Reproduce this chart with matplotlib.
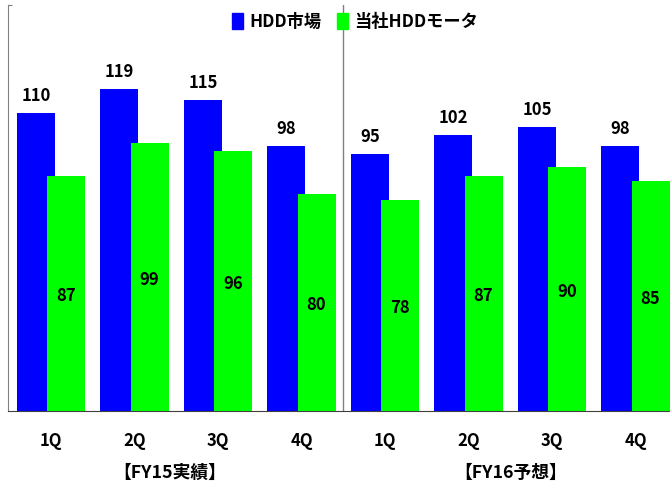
import matplotlib
matplotlib.use('Agg')
import numpy as np
from matplotlib import pyplot as plt
from matplotlib.patches import Patch

plt.rcParams['font.family'] = ['Noto Sans CJK JP', 'DejaVu Sans']
plt.rcParams['font.weight'] = 'bold'

quarters = ['1Q', '2Q', '3Q', '4Q', '1Q', '2Q', '3Q', '4Q']
periods = ['【FY15実績】', '【FY16予想】']
hdd_market = [110, 119, 115, 98, 95, 102, 105, 98]
hdd_motor = [87, 99, 96, 80, 78, 87, 90, 85]

fs = 12

fig = plt.figure(figsize=(6.7, 4.84), dpi=100)
ax = fig.add_axes([8 / 670, 1 - 411 / 484, 1 - 8 / 670, (411 - 5) / 484])

x = np.arange(len(quarters))
w = 0.455
off = 0.18
ax.bar(x - off, hdd_market, w, color='#0000FF', zorder=2)
ax.bar(x + off, hdd_motor, w, color='#00FF00', zorder=3)

for xi, v in zip(x, hdd_market):
    ax.text(xi - off, v + 3, str(v), ha='center', va='bottom', fontsize=fs, fontweight='bold')
for xi, v in zip(x, hdd_motor):
    ax.text(xi + off, v / 2 - 1, str(v), ha='center', va='center', fontsize=fs, fontweight='bold')

ax.set_xlim(-0.515, 7.413)
ax.set_ylim(0, 150)
ax.axvline(3.5, color='#808080', lw=1, zorder=1)

for s in ['top', 'right']:
    ax.spines[s].set_visible(False)
ax.spines['left'].set_color('#808080')
ax.spines['bottom'].set_color('#404040')
ax.set_yticks([150])
ax.set_yticklabels([])
ax.tick_params(axis='y', direction='in', length=3, color='#808080')
ax.set_xticks([])

for xi, q in zip(x, quarters):
    ax.text(xi, -11, q, ha='center', va='center', fontsize=fs, fontweight='bold')
ax.text(1.42, -23, periods[0], ha='center', va='center', fontsize=12.8, fontweight='bold')
ax.text(5.51, -23, periods[1], ha='center', va='center', fontsize=12.8, fontweight='bold')

ax.legend(handles=[Patch(color='#0000FF', label='HDD市場'), Patch(color='#00FF00', label='当社HDDモータ')],
          loc='center', bbox_to_anchor=(355 / 670, 1 - 22 / 484), bbox_transform=fig.transFigure,
          ncol=2, frameon=False, handlelength=0.65, handleheight=1.1,
          handletextpad=0.35, columnspacing=0.9, prop={'weight': 'bold', 'size': 12.4})

fig.savefig('out.png', dpi=100)
